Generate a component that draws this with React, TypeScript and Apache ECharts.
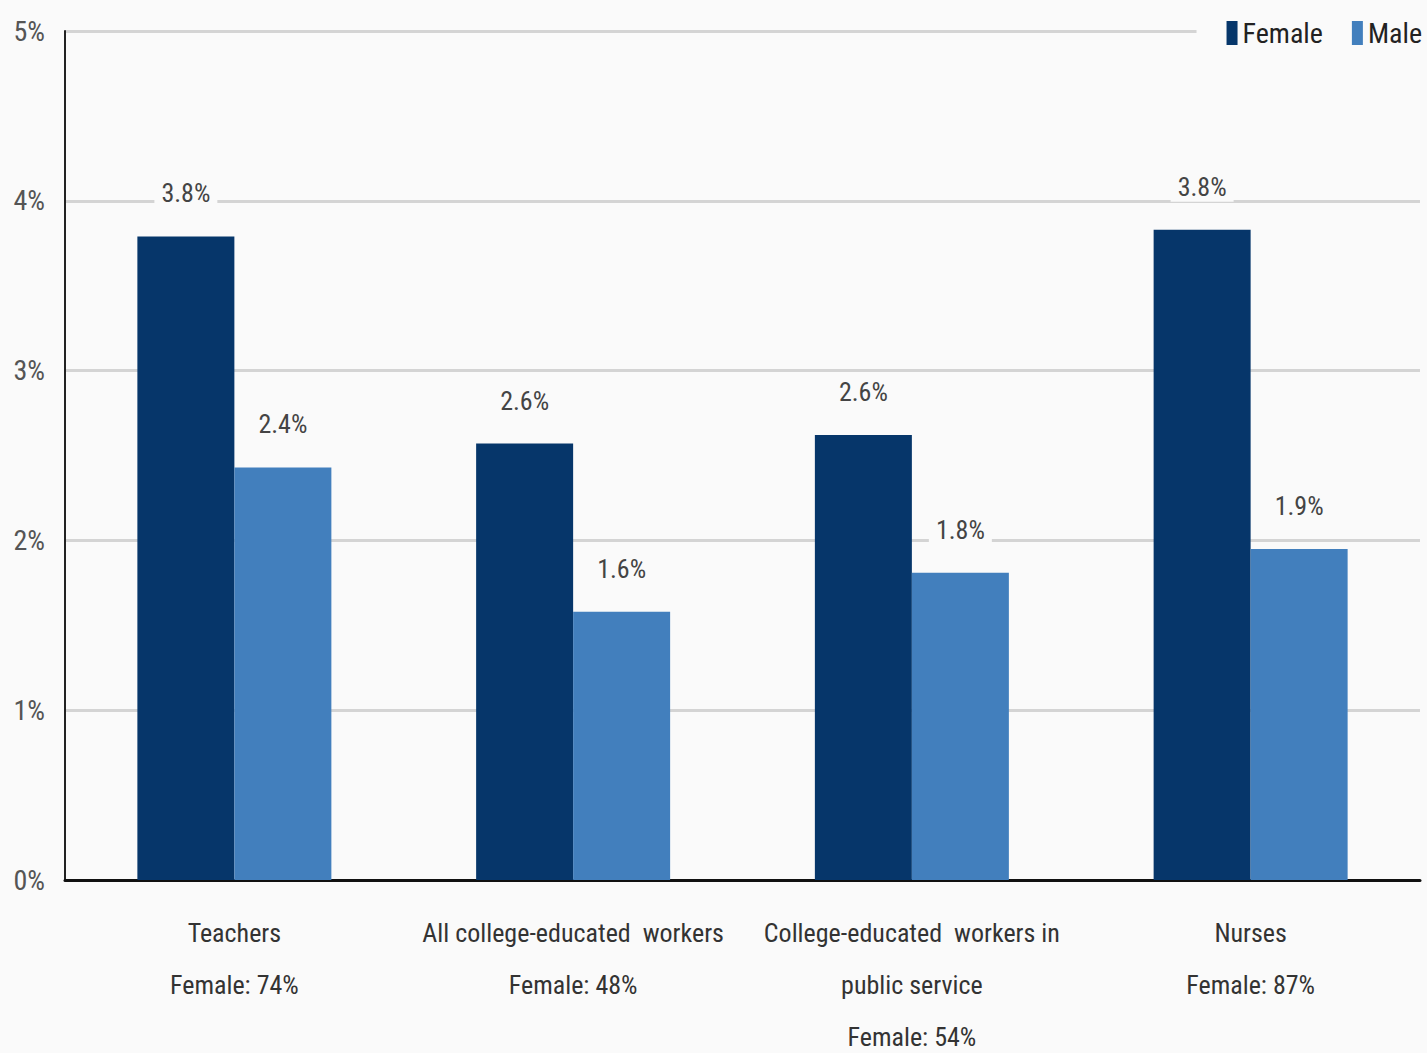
import React, { useEffect, useRef } from "react";
import * as echarts from "echarts";

const categories = [
  "Teachers\nFemale: 74%",
  "All college-educated  workers\nFemale: 48%",
  "College-educated  workers in\npublic service\nFemale: 54%",
  "Nurses\nFemale: 87%",
];
const femaleValues = [3.79, 2.57, 2.62, 3.83];
const maleValues = [2.43, 1.58, 1.81, 1.95];
const femaleLabels = ["3.8%", "2.6%", "2.6%", "3.8%"];
const maleLabels = ["2.4%", "1.6%", "1.8%", "1.9%"];
const yTickLabels = ["0%", "1%", "2%", "3%", "4%", "5%"];

const FONT = "'Roboto Condensed', 'DejaVu Sans Condensed', sans-serif";
const BG = "#fafafa";

function valueLabel(texts: string[]) {
  return {
    show: true,
    position: "top",
    distance: 28,
    fontFamily: FONT,
    fontSize: 26,
    color: "#444",
    backgroundColor: BG,
    padding: [2, 7],
    formatter: (p: any) => texts[p.dataIndex],
  };
}

export default function App() {
  const ref = useRef<HTMLDivElement>(null);
  useEffect(() => {
    const chart = echarts.init(ref.current!, null, { renderer: "svg" });
    chart.setOption({
      animation: false,
      backgroundColor: BG,
      textStyle: { fontFamily: FONT },
      grid: {
        left: 65,
        right: 7,
        top: 31,
        bottom: 173,
        containLabel: false,
        outerBoundsMode: "none",
      },
      legend: {
        right: 5,
        top: 17,
        itemWidth: 11,
        itemHeight: 24,
        itemGap: 29,
        backgroundColor: BG,
        padding: [2, 0, 2, 30],
        icon: "rect",
        textStyle: { fontFamily: FONT, fontSize: 28, color: "#222" },
        data: ["Female", "Male"],
      },
      xAxis: {
        type: "category",
        data: categories,
        axisLine: { lineStyle: { color: "#111", width: 3 } },
        axisTick: { show: false },
        axisLabel: {
          fontFamily: FONT,
          fontSize: 26,
          color: "#333",
          lineHeight: 52,
          margin: 27,
          interval: 0,
        },
      },
      yAxis: {
        type: "value",
        min: 0,
        max: 5,
        interval: 1,
        axisLine: { show: true, lineStyle: { color: "#222", width: 2 } },
        axisTick: { show: false },
        axisLabel: {
          fontFamily: FONT,
          fontSize: 28,
          color: "#555",
          margin: 20,
          formatter: (v: number) => yTickLabels[Math.round(v)],
        },
        splitLine: { lineStyle: { color: "#d4d4d4", width: 3 } },
      },
      series: [
        {
          name: "Female",
          type: "bar",
          data: femaleValues,
          barWidth: 97,
          barGap: "0%",
          itemStyle: { color: "#06366A" },
          label: valueLabel(femaleLabels),
        },
        {
          name: "Male",
          type: "bar",
          data: maleValues,
          barWidth: 97,
          barGap: "0%",
          itemStyle: { color: "#427FBD" },
          label: valueLabel(maleLabels),
        },
      ],
    });
    return () => chart.dispose();
  }, []);
  return (
    <div
      ref={ref}
      style={{ position: "fixed", left: 0, top: 0, width: 1427, height: 1053 }}
    />
  );
}
